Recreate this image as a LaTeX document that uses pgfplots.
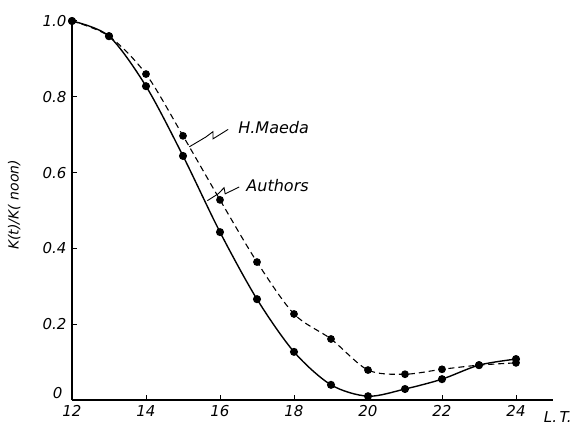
\documentclass[border=0pt]{standalone}
\usepackage{fontspec}
\setmainfont{DejaVu Sans}
\usepackage{pgfplots}
\pgfplotsset{compat=1.18}
\pgfplotstableread{
x y
12 1.000
13 0.960
14 0.828
15 0.644
16 0.443
17 0.266
18 0.127
19 0.040
20 0.010
21 0.029
22 0.055
23 0.092
24 0.108
}\authors
\pgfplotstableread{
x y
12 1.000
13 0.960
14 0.860
15 0.697
16 0.528
17 0.364
18 0.227
19 0.161
20 0.079
21 0.068
22 0.081
23 0.092
24 0.098
}\maeda
\begin{document}
\begin{tikzpicture}[x=1pt,y=1pt]
\path[use as bounding box] (-72,-26) rectangle (504,400);
\begin{axis}[
  at={(0pt,0pt)}, anchor=south west,
  scale only axis, width=481pt, height=379pt,
  xmin=12, xmax=25, ymin=0, ymax=1,
  axis lines=left, axis line style={-, line width=1.2pt},
  xtick={12,14,...,24}, ytick={0.2,0.4,0.6,0.8,1.0},
  xticklabels={12,14,16,18,20,22,24},
  yticklabels={0.2,0.4,0.6,0.8,1.0},
  extra y ticks={0}, extra y tick labels={0},
  extra y tick style={major tick length=0pt, yticklabel style={yshift=7pt, xshift=-4pt}},
  tick align=inside, major tick length=5pt,
  tick style={line width=1pt, black},
  /pgf/number format/assume math mode=true,
  ticklabel style={font=\fontsize{15}{17}\selectfont\itshape},
  xticklabel style={yshift=-2pt},
  yticklabel style={xshift=-2pt},
  ylabel={K(t)/K( noon)},
  ylabel style={at={(axis description cs:-0.12,0.515)}, anchor=center, rotate=0, font=\fontsize{14}{16}\selectfont\itshape},
  xlabel={L.\,T.},
  xlabel style={at={(axis description cs:1.01,-0.045)}, anchor=center, font=\fontsize{15}{17}\selectfont\itshape},
  clip=false,
]
\addplot[black, line width=1.4pt, smooth, tension=0.5, mark=*, mark size=3.3pt] table {\authors};
\addplot[black, line width=1.1pt, smooth, tension=0.5, dash pattern=on 6pt off 4pt, mark=*, mark options={solid}, mark size=3.3pt] table {\maeda};
\draw[line width=0.9pt] (axis cs:15.17,0.668) -- (axis cs:15.62,0.694) -- (axis cs:15.81,0.708) -- (axis cs:15.81,0.689) -- (axis cs:16.22,0.714);
\node[anchor=west, font=\fontsize{16}{18}\selectfont\itshape] at (axis cs:16.40,0.718) {H.Maeda};
\draw[line width=0.9pt] (axis cs:15.66,0.526) -- (axis cs:15.95,0.544) -- (axis cs:16.11,0.560) -- (axis cs:16.14,0.544) -- (axis cs:16.52,0.562);
\node[anchor=west, font=\fontsize{16}{18}\selectfont\itshape] at (axis cs:16.62,0.565) {Authors};
\end{axis}
\end{tikzpicture}
\end{document}
